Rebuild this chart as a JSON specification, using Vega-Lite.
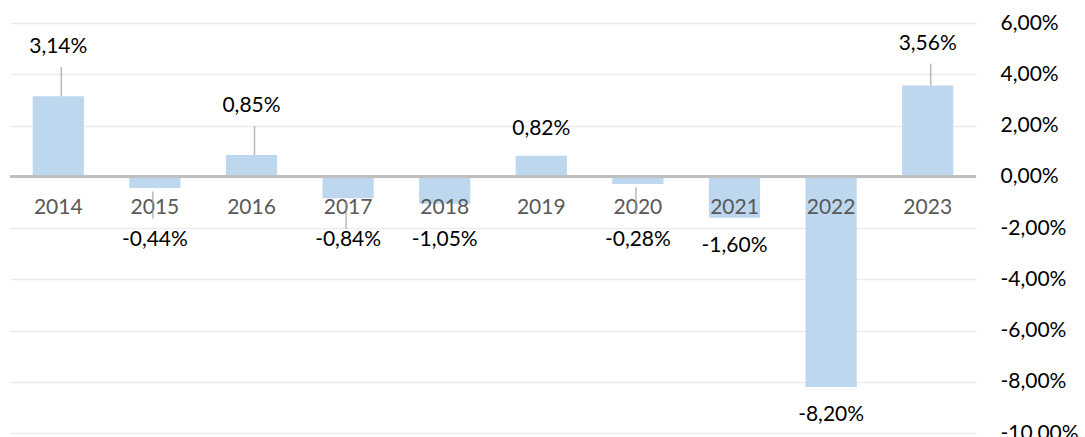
{
  "$schema": "https://vega.github.io/schema/vega-lite/v6.json",
  "autosize": {"type": "none"},
  "padding": {"left": 10, "top": 23, "right": 109, "bottom": 4},
  "width": 966,
  "height": 410,
  "background": "#ffffff",
  "config": {
    "view": {"stroke": null},
    "font": "Lato",
    "locale": {"number": {"decimal": ",", "thousands": ".", "grouping": [3], "currency": ["", " €"], "minus": "-"}}
  },
  "data": {
    "values": [
      {"year": "2014", "value": 0.0314},
      {"year": "2015", "value": -0.0044},
      {"year": "2016", "value": 0.0085},
      {"year": "2017", "value": -0.0084},
      {"year": "2018", "value": -0.0105},
      {"year": "2019", "value": 0.0082},
      {"year": "2020", "value": -0.0028},
      {"year": "2021", "value": -0.0160},
      {"year": "2022", "value": -0.0820},
      {"year": "2023", "value": 0.0356}
    ]
  },
  "encoding": {
    "x": {"field": "year", "type": "nominal", "sort": null,
      "scale": {"paddingInner": 0.47, "paddingOuter": 0.235},
      "axis": null}
  },
  "layer": [
    {
      "mark": {"type": "bar", "color": "#BDD7EE"},
      "encoding": {
        "y": {"field": "value", "type": "quantitative",
          "scale": {"domain": [-0.1, 0.06], "nice": false, "zero": false},
          "axis": {"orient": "right", "format": ".2%", "values": [-0.1, -0.08, -0.06, -0.04, -0.02, 0, 0.02, 0.04, 0.06],
            "domain": false, "ticks": false, "labelPadding": 24, "labelFontSize": 21, "labelColor": "#000000",
            "labelFont": "Lato", "gridColor": "#ececec", "gridWidth": 1.5, "title": null, "labelAlign": "left"}}
      }
    },
    {
      "mark": {"type": "rule", "color": "#bfbfbf", "strokeWidth": 2.5},
      "encoding": {"y": {"datum": 0, "type": "quantitative"}, "x": {"value": 0}, "x2": {"value": 966}}
    },
    {
      "mark": {"type": "text", "fontSize": 21, "color": "#595959", "dy": 31, "baseline": "middle"},
      "encoding": {"y": {"datum": 0, "type": "quantitative"}, "text": {"field": "year"}}
    },
    {
      "transform": [{"filter": {"field": "year", "oneOf": ["2014", "2016"]}}],
      "mark": {"type": "tick", "orient": "vertical", "size": 29, "thickness": 1.5, "color": "#9a9a9a", "yOffset": -14.5, "xOffset": 3},
      "encoding": {"y": {"field": "value", "type": "quantitative"}}
    },
    {
      "transform": [{"filter": {"field": "year", "equal": "2023"}}],
      "mark": {"type": "tick", "orient": "vertical", "size": 22, "thickness": 1.5, "color": "#9a9a9a", "yOffset": -11, "xOffset": 3},
      "encoding": {"y": {"field": "value", "type": "quantitative"}}
    },
    {
      "transform": [{"filter": {"field": "year", "oneOf": ["2015", "2017", "2020"]}}],
      "mark": {"type": "tick", "orient": "vertical", "size": 27, "thickness": 1.5, "color": "#9a9a9a", "yOffset": 17, "xOffset": -2},
      "encoding": {"y": {"field": "value", "type": "quantitative"}}
    },
    {
      "transform": [{"filter": {"field": "year", "equal": "2014"}}],
      "mark": {"type": "text", "fontSize": 21, "color": "#000000", "dy": -49, "baseline": "middle"},
      "encoding": {"y": {"field": "value", "type": "quantitative"}, "text": {"field": "value", "type": "quantitative", "format": ".2%"}}
    },
    {
      "transform": [{"filter": {"field": "year", "equal": "2023"}}],
      "mark": {"type": "text", "fontSize": 21, "color": "#000000", "dy": -42, "baseline": "middle"},
      "encoding": {"y": {"field": "value", "type": "quantitative"}, "text": {"field": "value", "type": "quantitative", "format": ".2%"}}
    },
    {
      "transform": [{"filter": {"field": "year", "equal": "2016"}}],
      "mark": {"type": "text", "fontSize": 21, "color": "#000000", "dy": -49, "baseline": "middle"},
      "encoding": {"y": {"field": "value", "type": "quantitative"}, "text": {"field": "value", "type": "quantitative", "format": ".2%"}}
    },
    {
      "transform": [{"filter": {"field": "year", "equal": "2019"}}],
      "mark": {"type": "text", "fontSize": 21, "color": "#000000", "dy": -27, "baseline": "middle"},
      "encoding": {"y": {"field": "value", "type": "quantitative"}, "text": {"field": "value", "type": "quantitative", "format": ".2%"}}
    },
    {
      "transform": [{"filter": "datum.value < 0 && datum.value > -0.015"}],
      "mark": {"type": "text", "fontSize": 21, "color": "#000000", "baseline": "middle"},
      "encoding": {"y": {"datum": -0.0245, "type": "quantitative"}, "text": {"field": "value", "type": "quantitative", "format": ".2%"}}
    },
    {
      "transform": [{"filter": "datum.value <= -0.015"}],
      "mark": {"type": "text", "fontSize": 21, "color": "#000000", "dy": 28, "baseline": "middle"},
      "encoding": {"y": {"field": "value", "type": "quantitative"}, "text": {"field": "value", "type": "quantitative", "format": ".2%"}}
    }
  ]
}
